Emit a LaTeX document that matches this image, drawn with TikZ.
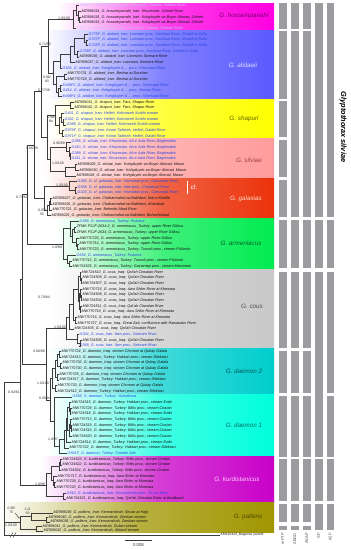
\documentclass[tikz,border=0pt]{standalone}
\usepackage{fontspec}
\setmainfont{Liberation Sans}
\usetikzlibrary{calc,arrows.meta}
\definecolor{brc}{RGB}{60,60,60}
\definecolor{labblue}{RGB}{40,70,225}
\definecolor{lablav}{RGB}{200,190,255}
\definecolor{barc}{RGB}{155,155,160}
\definecolor{cHo}{RGB}{255,0,225}
\definecolor{cAl}{RGB}{90,90,255}
\definecolor{cSh}{RGB}{255,255,0}
\definecolor{cSi}{RGB}{255,155,155}
\definecolor{cGa}{RGB}{235,50,10}
\definecolor{cAr}{RGB}{0,235,80}
\definecolor{cCo}{RGB}{200,200,200}
\definecolor{cDb}{RGB}{0,205,205}
\definecolor{cDa}{RGB}{0,255,220}
\definecolor{cKu}{RGB}{200,0,200}
\definecolor{cPa}{RGB}{160,150,0}
\newcommand\mktip[5]{\coordinate (#1) at (#3,{5.7+5.67*#2});\node[tiptext,#4] (#1l) at (#1) {#5};}
\newcommand\mktipy[5]{\coordinate (#1) at (#3,#2);\node[tiptext,#4] (#1l) at (#1) {#5};}
\newcommand\mknd[4]{\path let \p1=(#3), \p2=(#4) in coordinate (#1) at (#2pt,{0.5*\y1+0.5*\y2});\draw[br] (#1) |- (#3);\draw[br] (#1) |- (#4);}
\newcommand\bsl[4]{\node[bslab] (#1) at (#2,#3) {#4};}
\newcommand\band[5]{\fill[left color=white,right color=#5,middle color=#5!75] (#2,#3) rectangle (274,#4);}
\newcommand\barseg[4]{\fill[barc] (#2,#3) rectangle (#2+7.5,#4);}
\begin{document}
\begin{tikzpicture}[x=1pt,y=-1pt,
  br/.style={draw=brc,line width=0.45pt},
  tiptext/.style={anchor=west,inner sep=0.6pt,outer sep=0pt,font=\fontsize{3.75}{4}\selectfont\itshape},
  tk/.style={text={rgb,255:red,20;green,20;blue,20}},
  tb/.style={text=labblue},
  tw/.style={text=lablav},
  bslab/.style={inner sep=0pt,align=center,text={rgb,255:red,50;green,50;blue,50},font=\fontsize{3.5}{3.9}\selectfont},
  cladelab/.style={inner sep=0pt,font=\fontsize{6.3}{7}\selectfont\itshape},
  barlab/.style={rotate=90,anchor=east,inner sep=0pt,text={rgb,255:red,80;green,80;blue,80},font=\fontsize{4}{4.5}\selectfont}]
\useasboundingbox (0,0) rectangle (351,550);
\fill[white] (0,0) rectangle (351,550);
% ---------- coloured clade bands ----------
\band{bHo}{58}{3}{30.5}{cHo}
\band{bAl}{45}{30.5}{99.2}{cAl}
\band{bSh}{50}{99.2}{138.9}{cSh}
\band{bSi}{40}{138.9}{178.6}{cSi}
\band{bGa}{45}{178.6}{218.3}{cGa}
\band{bAr}{55}{218.3}{269.3}{cAr}
\band{bCo}{50}{269.3}{348.7}{cCo}
\band{bDb}{48}{348.7}{394.1}{cDb}
\band{bDa}{48}{394.1}{456.5}{cDa}
\band{bKu}{40}{456.5}{502.5}{cKu}
\band{bPa}{0}{502.5}{532}{cPa}
% ---------- clade labels ----------
\node[cladelab,text={rgb,255:red,120;green,0;blue,110}] (lHo) at (244,16) {G. hosseinpanahi};
\node[cladelab,text={rgb,255:red,225;green,225;blue,255}] (lAl) at (243,65) {G. alidaeii};
\node[cladelab,text={rgb,255:red,100;green,100;blue,0}] (lSh) at (244,119) {G. shapuri};
\node[cladelab,text={rgb,255:red,165;green,65;blue,65}] (lSi) at (249,160) {G. silviae};
\node[cladelab,text={rgb,255:red,255;green,220;blue,200}] (lGa) at (246,199) {G. galaxias};
\node[cladelab,text={rgb,255:red,0;green,100;blue,40}] (lAr) at (241,243) {G. armeniacus};
\node[cladelab,text={rgb,255:red,80;green,80;blue,80}] (lCo) at (252,306) {G. cous};
\node[cladelab,text={rgb,255:red,0;green,90;blue,90}] (lDb) at (244,371) {G. daemon 2};
\node[cladelab,text={rgb,255:red,0;green,110;blue,100}] (lDa) at (244,425) {G. daemon 1};
\node[cladelab,text={rgb,255:red,255;green,200;blue,255}] (lKu) at (237,479) {G. kurdistanicus};
\node[cladelab,text={rgb,255:red,80;green,75;blue,0}] (lPa) at (248,517) {G. pallens};
\coordinate (cfa) at (187,180.5);
\coordinate (cfb) at (187,194);
\draw[white,line width=0.5pt] (cfa) -- (cfb);
\node[inner sep=0pt,text=white,font=\fontsize{6}{7}\selectfont] (cf) at (194,187) {cf.};
% ---------- tips ----------
\mktip{t0}{0}{79}{tw}{G398\_G. hosseinpanahi\_Iran: Fars prov., Zohreh, Fahlian River}
\mktip{t1}{1}{81}{tk}{MZ959034\_G. hosseinpanahi\_Iran: Khuzestan, Zohreh River}
\mktip{t2}{2}{81}{tk}{MZ959035\_G. hosseinpanahi\_Iran: Kohgiluyeh-va-Boyer Ahmad, Zohreh}
\mktip{t3}{3}{81}{tk}{MZ959033\_G. hosseinpanahi\_Iran: Kohgiluyeh-va-Boyer Ahmad, Zohreh}
\mktip{t4}{4}{76}{tw}{G397\_G. hosseinpanahi\_Iran: Fars prov., Zohreh, Fahlian River}
\mktip{t5}{5}{88}{tb}{G775F\_G. alidaeii\_Iran: Lorestan prov., Kashkan River, Ghaleh-e-Sofla}
\mktip{t6}{6}{88}{tb}{G727F\_G. alidaeii\_Iran: Lorestan prov., Kashkan River, Ghaleh-e-Sofla}
\mktip{t7}{7}{88}{tb}{G726F\_G. alidaeii\_Iran: Lorestan prov., Kashkan River, Ghaleh-e-Sofla}
\mktip{t8}{8}{79}{tb}{G728F\_G. alidaeii\_Iran: Lorestan prov., Kashkan River, Ghaleh-e-Sofla}
\mktip{t9}{9}{79}{tk}{MZ959036\_G. alidaeii\_Iran: Lorestan, Seimare River}
\mktip{t10}{10}{75}{tk}{MZ959037\_G. alidaeii\_Iran: Lorestan, Seimare River}
\mktip{t11}{11}{62}{tb}{G606\_G. alidaeii\_Iran: Kohgiluyeh \& ... prov., Khersaan River}
\mktip{t12}{12}{67}{tk}{MW770731\_G. alidaeii\_Iran: Beshar at Dorshan}
\mktip{t13}{13}{67}{tk}{MW770718\_G. alidaeii\_Iran: Beshar at Dorshan}
\mktip{t14}{14}{62}{tb}{Ex58F2\_G. alidaeii\_Iran: Kohgiluyeh \& ... prov., Khersaan River}
\mktip{t15}{15}{62}{tb}{G414\_G. alidaeii\_Iran: Kohgiluyeh \& ... prov., Beshar River}
\mktip{t16}{16}{62}{tb}{Ex58F4\_G. alidaeii\_Iran: Kohgiluyeh \& ... prov., Khersaan River}
\mktip{t17}{17}{74}{tk}{MZ959031\_G. shapuri\_Iran: Fars, Shapur River}
\mktip{t18}{18}{74}{tk}{MZ959032\_G. shapuri\_Iran: Fars, Shapur River}
\mktip{t19}{19}{64}{tb}{G401\_G. shapuri\_Iran: Helleh, Kohmareh Sorkhi stream}
\mktip{t20}{20}{64}{tb}{G332\_G. shapuri\_Iran: Helleh, Kohmareh Sorkhi stream}
\mktip{t21}{21}{66}{tb}{G398\_G. shapuri\_Iran: Helleh, Kohmareh Sorkhi stream}
\mktip{t22}{22}{64}{tb}{G979F\_G. shapuri\_Iran: Konar Takhteh, Helleh, Dalaki River}
\mktip{t23}{23}{64}{tb}{G971F\_G. shapuri\_Iran: Konar Takhteh, Helleh, Dalaki River}
\mktip{t24}{24}{71}{tb}{G395\_G. silviae\_Iran: Khuzestan, Ab-e Aala River, Baghmalek}
\mktip{t25}{25}{71}{tb}{G410\_G. silviae\_Iran: Khuzestan, Ab-e Aala River, Baghmalek}
\mktip{t26}{26}{71}{tb}{G389\_G. silviae\_Iran: Khuzestan, Ab-e Aala River, Baghmalek}
\mktip{t27}{27}{71}{tb}{G411\_G. silviae\_Iran: Khuzestan, Ab-e Aala River, Baghmalek}
\mktip{t28}{28}{77}{tk}{MZ959029\_G. silviae\_Iran: Kohgiluyeh-va-Boyer Ahmad, Marun}
\mktip{t29}{29}{79}{tk}{MZ959030\_G. silviae\_Iran: Kohgiluyeh-va-Boyer Ahmad, Marun}
\mktip{t30}{30}{76}{tk}{MZ959028\_G. silviae\_Iran: Kohgiluyeh-va-Boyer Ahmad, Marun}
\mktip{t31}{31}{77}{tb}{G396\_G. cf. galaxias\_Iran: Hamedan prov., Gamasiab River}
\mktip{t32}{32}{77}{tb}{G558\_G. cf. galaxias\_Iran: Ilam prov., Chardaval River}
\mktip{t33}{33}{77}{tb}{G323\_G. cf. galaxias\_Iran: Hamedan prov., Gamasiab River}
\mktip{t34}{34}{52}{tk}{MZ959027\_G. galaxias\_Iran: Chaharmahal-va-Bakhtiari, Mal-e-Khalife}
\mktip{t35}{35}{52}{tk}{MZ959026\_G. galaxias\_Iran: Chaharmahal-va-Bakhtiari, Aftarabad}
\mktip{t36}{36}{52}{tk}{MW770721\_G. galaxias\_Iran: Behesht Abad River}
\mktip{t37}{37}{51}{tk}{MZ959025\_G. galaxias\_Iran: Chaharmahal-va-Bakhtiari, Beheshtabad}
\mktip{t38}{38}{79}{tb}{G369\_G. armeniacus\_Turkey: Pulumur}
\mktip{t39}{39}{76}{tk}{ZFMK FSJF-2634-2\_G. armeniacus\_Turkey: upper River Göksu}
\mktip{t40}{40}{76}{tk}{ZFMK FSJF-2634\_G. armeniacus\_Turkey: upper River Göksu}
\mktip{t41}{41}{79}{tk}{MW770726\_G. armeniacus\_Turkey: upper River Göksu}
\mktip{t42}{42}{79}{tk}{MW770714\_G. armeniacus\_Turkey: upper River Göksu}
\mktip{t43}{43}{79}{tk}{MW770723\_G. armeniacus\_Turkey: Tunceli prov., stream Pülümür}
\mktip{t44}{44}{76}{tb}{G634\_G. armeniacus\_Turkey: Pulumur}
\mktip{t45}{45}{72}{tk}{MW770712\_G. armeniacus\_Turkey: Tunceli prov., stream Pülümür}
\mktip{t46}{46}{72}{tk}{MW724525\_G. armeniacus\_Turkey: Gaziantep prov., stream Merzimen}
\mktip{t47}{47}{81}{tk}{MW724510\_G. cous\_Iraq: Qal'ah Chwalan River}
\mktip{t48}{48}{82}{tk}{MW724509\_G. cous\_Iraq: Qal'ah Chwalan River}
\mktip{t49}{49}{82}{tk}{MW724507\_G. cous\_Iraq: Qal'ah Chwalan River}
\mktip{t50}{50}{82}{tk}{MW770715\_G. cous\_Iraq: Awa Shiler River at Khewata}
\mktip{t51}{51}{82}{tk}{MW724508\_G. cous\_Iraq: Qal'ah Chwalan River}
\mktip{t52}{52}{82}{tk}{MW724504\_G. cous\_Iraq: Qal'ah Chwalan River}
\mktip{t53}{53}{82}{tk}{MW724511\_G. cous\_Iraq: Qal'ah Chwalan River}
\mktip{t54}{54}{81}{tk}{MW770719\_G. cous\_Iraq: Awa Shiler River at Khewata}
\mktip{t55}{55}{77}{tk}{MW770716\_G. cous\_Iraq: Awa Shiler River at Khewata}
\mktip{t56}{56}{77}{tk}{MW770727\_G. cous\_Iraq: Great Zab, confluence with Rawandus River}
\mktip{t57}{57}{74}{tk}{MW724505\_G. cous\_Iraq: Qal'ah Chwalan River}
\mktip{t58}{58}{79}{tb}{G324\_G. cous\_Iran: Ilam prov., Seimare River}
\mktip{t59}{59}{82}{tk}{MW724506\_G. cous\_Iraq: Qal'ah Chwalan River}
\mktip{t60}{60}{79}{tb}{G368\_G. cous\_Iran: Ilam prov., Seimare River}
\mktip{t61}{61}{61}{tk}{MW770724\_G. daemon\_Iraq: stream Choman at Qubay Galala}
\mktip{t62}{62}{61}{tk}{MW724513\_G. daemon\_Turkey: Hakkari prov., stream Dilektasi}
\mktip{t63}{63}{62}{tk}{MW770732\_G. daemon\_Iraq: stream Choman at Qubay Galala}
\mktip{t64}{64}{62}{tk}{MW770730\_G. daemon\_Iraq: stream Choman at Qubay Galala}
\mktip{t65}{65}{59}{tk}{MW770725\_G. daemon\_Iraq: stream Choman at Qubay Galala}
\mktip{t66}{66}{59}{tk}{MW724517\_G. daemon\_Turkey: Hakkari prov., stream Dilektasi}
\mktip{t67}{67}{57}{tk}{MW770733\_G. daemon\_Iraq: stream Choman at Qubay Galala}
\mktip{t68}{68}{57}{tk}{MW724512\_G. daemon\_Turkey: Hakkari prov., stream Dilektasi}
\mktip{t69}{69}{72}{tb}{G559\_G. daemon\_Turkey: Yuksekova}
\mktip{t70}{70}{71}{tk}{MW724515\_G. daemon\_Turkey: Hakkari prov., stream Ezdir}
\mktip{t71}{71}{72}{tk}{MW770729\_G. daemon\_Turkey: Bitlis prov., stream Ciratan}
\mktip{t72}{72}{71}{tk}{MW724518\_G. daemon\_Turkey: Hakkari prov., stream Ezdir}
\mktip{t73}{73}{72}{tk}{MW770713\_G. daemon\_Turkey: Bitlis prov., stream Ciratan}
\mktip{t74}{74}{72}{tk}{MW724519\_G. daemon\_Turkey: Bitlis prov., stream Ciratan}
\mktip{t75}{75}{72}{tk}{MW724516\_G. daemon\_Turkey: Bitlis prov., stream Ciratan}
\mktip{t76}{76}{72}{tk}{MW724520\_G. daemon\_Turkey: Bitlis prov., stream Ciratan}
\mktip{t77}{77}{71}{tk}{MW724514\_G. daemon\_Turkey: Hakkari prov., stream Ezdir}
\mktip{t78}{78}{69}{tk}{MW770722\_G. daemon\_Turkey: Hakkari prov., stream Dilektasi}
\mktip{t79}{79}{67}{tb}{G501F\_G. daemon\_Turkey: Cimeler Zab}
\mktip{t80}{80}{62}{tk}{MW724523\_G. kurdistanicus\_Turkey: Bitlis prov., stream Ciratan}
\mktip{t81}{81}{62}{tk}{MW724522\_G. kurdistanicus\_Turkey: Bitlis prov., stream Ciratan}
\mktip{t82}{82}{61}{tk}{MW724524\_G. kurdistanicus\_Turkey: Bitlis prov., stream Ciratan}
\mktip{t83}{83}{57}{tk}{MW770717\_G. kurdistanicus\_Iraq: Awa Shiler at Khewata}
\mktip{t84}{84}{56}{tk}{MW770728\_G. kurdistanicus\_Iraq: Awa Shiler at Khewata}
\mktip{t85}{85}{56}{tk}{MW770720\_G. kurdistanicus\_Iraq: Awa Shiler at Khewata}
\mktip{t86}{86}{66}{tb}{G510\_G. kurdistanicus\_Iran: Kermanshah prov., Sirvan River}
\mktip{t87}{87}{66}{tk}{MW724521\_G. kurdistanicus\_Iraq: Qal'ah Chwalan River at Bardband}
\mktipy{t88}{513}{53}{tk}{MZ959039\_G. pallens\_Iran: Kermanshah, Sirvan at Hajij}
\mktipy{t89}{517.5}{48}{tk}{MZ959040\_G. pallens\_Iran: Kermanshah, Zemkan stream}
\mktipy{t90}{522}{50}{tk}{MZ959038\_G. pallens\_Iran: Kermanshah, Zemkan stream}
\mktipy{t91}{526.5}{42}{tk}{MZ959041\_G. pallens\_Iran: Kermanshah, Gulain stream}
\mktipy{t92}{531}{43}{tk}{MZ959042\_G. pallens\_Iran: Kermanshah, Abiand stream}
\coordinate (og) at (220,535);
\node[tiptext,tk,font=\fontsize{3.4}{4}\selectfont\itshape] (ogl) at (og) {KM610423\_Bagarius yarrelli};
% ---------- internal nodes ----------
\mknd{h1}{79}{t2}{t3}
\mknd{h2}{78}{t1}{h1}
\mknd{h3}{76}{t0}{h2}
\mknd{H}{73}{h3}{t4}
\mknd{a1}{86}{t6}{t7}
\mknd{a2}{84}{t5}{a1}
\mknd{a3}{77}{t8}{t9}
\mknd{a4}{74}{a2}{a3}
\mknd{a5}{70}{a4}{t10}
\mknd{a6}{60}{a5}{t11}
\mknd{a7}{64}{t12}{t13}
\mknd{a8}{60}{t14}{t15}
\mknd{a9}{58}{a8}{t16}
\mknd{a10}{56}{a7}{a9}
\mknd{AL}{53}{a6}{a10}
\mknd{s1}{70}{t17}{t18}
\mknd{s2}{63}{t20}{t21}
\mknd{s3}{61}{t19}{s2}
\mknd{s4}{62}{t22}{t23}
\mknd{s5}{59}{s3}{s4}
\mknd{SH}{55}{s1}{s5}
\mknd{v1}{70}{t26}{t27}
\mknd{v2}{69}{t25}{v1}
\mknd{v3}{66}{t24}{v2}
\mknd{v4}{75}{t28}{t29}
\mknd{v5}{65}{v4}{t30}
\mknd{SV}{50}{v3}{v5}
\mknd{C4}{47}{SH}{SV}
\mknd{C3}{48}{H}{AL}
\mknd{C2}{41}{C3}{C4}
\mknd{g1}{75}{t32}{t33}
\mknd{g2}{69}{t31}{g1}
\mknd{g3}{50}{t34}{t35}
\mknd{g4}{49}{g3}{t36}
\mknd{g5}{47}{g4}{t37}
\mknd{GA}{44}{g2}{g5}
\mknd{C1}{34}{C2}{GA}
\mknd{m1}{74}{t39}{t40}
\mknd{m2}{77}{t42}{t43}
\mknd{m3}{76}{t41}{m2}
\mknd{m4}{72}{m1}{m3}
\mknd{m5}{70}{t38}{m4}
\mknd{m6}{69}{t45}{t46}
\mknd{m7}{67}{t44}{m6}
\mknd{M}{63}{m5}{m7}
\mknd{C}{27}{C1}{M}
\mknd{c1}{81}{t48}{t49}
\mknd{c2}{80}{t47}{c1}
\mknd{c3}{81}{t51}{t52}
\mknd{c4}{80}{t50}{c3}
\mknd{c5}{80}{t53}{t54}
\mknd{c6}{79}{c4}{c5}
\mknd{c7}{78}{c2}{c6}
\mknd{c8}{75}{t55}{t56}
\mknd{c9}{73}{c7}{c8}
\mknd{c10}{69}{c9}{t57}
\mknd{c11}{80}{t59}{t60}
\mknd{c12}{77}{t58}{c11}
\mknd{CO}{66}{c10}{c12}
\mknd{d1}{59}{t61}{t62}
\mknd{d2}{60}{t63}{t64}
\mknd{d3}{57}{d1}{d2}
\mknd{d4}{57}{t65}{t66}
\mknd{d5}{55}{d3}{d4}
\mknd{d6}{55}{t67}{t68}
\mknd{D2}{52}{d5}{d6}
\mknd{e1}{70}{t71}{t72}
\mknd{e2}{69}{t70}{e1}
\mknd{e3}{71}{t74}{t75}
\mknd{e4}{70}{t73}{e3}
\mknd{e5}{69}{e4}{t76}
\mknd{e6}{67}{e2}{e5}
\mknd{e7}{66}{e6}{t77}
\mknd{e8}{64}{e7}{t78}
\mknd{e9}{59}{e8}{t79}
\mknd{D1}{54}{t69}{e9}
\mknd{DD}{50}{D2}{D1}
\mknd{CD}{46}{CO}{DD}
\mknd{k1}{60}{t80}{t81}
\mknd{k2}{59}{k1}{t82}
\mknd{k3}{54}{t84}{t85}
\mknd{k4}{53}{t83}{k3}
\mknd{k5}{51}{k2}{k4}
\mknd{k6}{63}{t86}{t87}
\mknd{K}{46}{k5}{k6}
\mknd{B}{22}{C}{CD}
\mknd{A}{20}{B}{K}
\mknd{p1}{46}{t89}{t90}
\mknd{p2}{31}{t88}{p1}
\mknd{p3}{36}{t91}{t92}
\mknd{PAL}{20}{p2}{p3}
\path let \p1=(A) in coordinate (R) at (4pt,\y1);
\draw[br] (R) -- (A);
\draw[br] (R) |- (PAL);
\draw[br] (R) |- (og);
% break marks on the outgroup branch
\coordinate (bk1a) at (10,537.5); \coordinate (bk1b) at (13,532.5);
\coordinate (bk2a) at (13,537.5); \coordinate (bk2b) at (16,532.5);
\draw[br] (bk1a) -- (bk1b);
\draw[br] (bk2a) -- (bk2b);
% ---------- support values ----------
\bsl{b1}{64}{18}{1.0/100}
\bsl{b2}{45}{44}{0.71/53}
\bsl{b3}{47}{79.5}{0.86/\\83}
\bsl{b4}{44}{90}{0.77/38}
\bsl{b5}{51}{119.5}{0.99/\\94}
\bsl{b6}{59}{143}{0.96/89}
\bsl{b7}{58}{163}{1.0/100}
\bsl{b8}{32}{148}{0.86/89}
\bsl{b9}{62}{185}{1.0/100}
\bsl{b10}{42}{212.5}{0.97/\\55}
\bsl{b11}{22}{197}{0.74/62}
\bsl{b12}{57}{247}{1.0/99}
\bsl{b13}{44}{297}{0.70/84}
\bsl{b14}{60}{327}{1.0/100}
\bsl{b15}{39}{351}{0.86/88}
\bsl{b16}{43}{383}{1.0/100}
\bsl{b17}{14}{392}{0.92/61}
\bsl{b18}{45}{398}{0.95/94}
\bsl{b19}{53}{439}{1.0/97}
\bsl{b20}{40}{484}{1.0/98}
\bsl{b21}{11.5}{510.5}{0.95/\\75}
\bsl{b22}{27.5}{511.5}{1.0/\\93}
\bsl{b23}{11}{525}{1.0/100}
\coordinate (ars) at (15,513);
\coordinate (are) at (19.5,518.5);
\draw[br,-{Stealth[length=1.6pt,width=1.4pt]}] (ars) -- (are);
% ---------- scale bar ----------
\coordinate (sb1) at (125,540);
\coordinate (sb2) at (152,540);
\draw[draw=brc,line width=0.5pt] (sb1) -- (sb2);
\node[inner sep=0pt,font=\fontsize{4.3}{5}\selectfont,text={rgb,255:red,50;green,50;blue,50}] (sbl) at (138.5,545.5) {0.008};
% ---------- species-delimitation bars ----------
\foreach \ya/\yb in {3/29,31/99,101/137,140/177,180/217,220/268,272/348,351/393,396/457,459/501,504/522,526/530}
  {\fill[barc] (279,\ya) rectangle (286.5,\yb);}
\foreach \ya/\yb in {3/29,31/217,220/268,272/348,351/393,396/457,459/501,504/522,526/530}
  {\fill[barc] (291,\ya) rectangle (298.5,\yb);
   \fill[barc] (303,\ya) rectangle (310.5,\yb);}
\foreach \ya/\yb in {3/217,220/268,272/457,459/501,504/530}
  {\fill[barc] (315,\ya) rectangle (322.5,\yb);}
\foreach \ya/\yb in {3/217,220/268,272/393,396/457,459/501,504/530}
  {\fill[barc] (326.5,\ya) rectangle (334,\yb);}
\node[barlab] (m1l) at (282.75,533) {mPTP};
\node[barlab] (m2l) at (294.75,533) {ABGD};
\node[barlab] (m3l) at (306.75,533) {ASAP};
\node[barlab] (m4l) at (318.75,533) {SP};
\node[barlab] (m5l) at (330.25,533) {K2P};
\node[rotate=-90,inner sep=0pt,font=\fontsize{7.4}{8}\selectfont\bfseries\itshape] (gsv) at (343,127) {Glyptothorax silviae};
\end{tikzpicture}
\end{document}
